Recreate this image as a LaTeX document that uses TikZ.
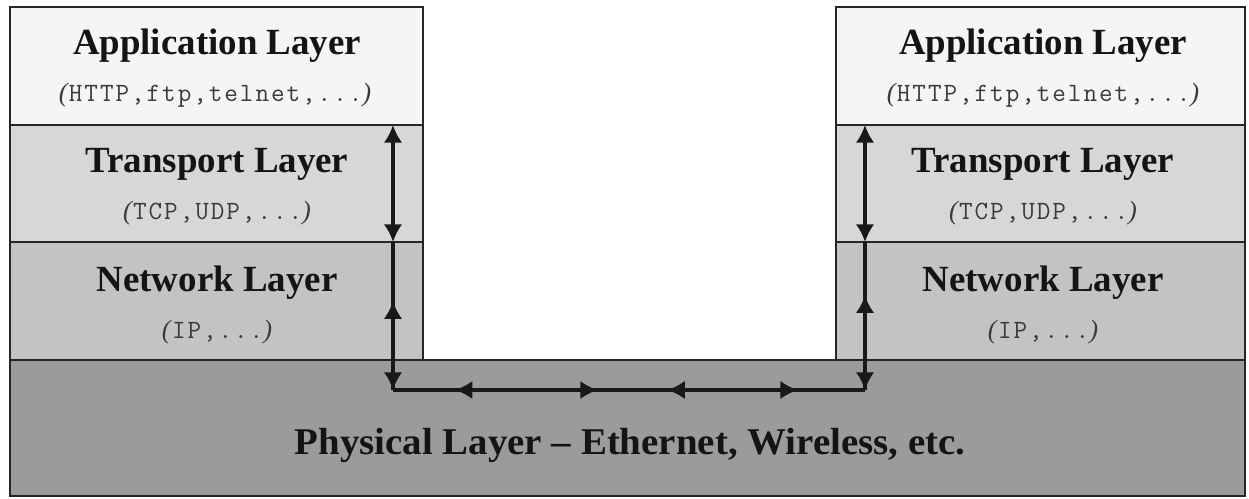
\documentclass[tikz,border=0pt]{standalone}
\usepackage{fontspec}
\setmainfont{Liberation Serif}
\newfontfamily\codefont[LetterSpace=7.5]{Latin Modern Mono}
\usetikzlibrary{arrows.meta,decorations.markings}

\definecolor{appgray}{HTML}{F5F5F5}
\definecolor{trgray}{HTML}{D7D7D7}
\definecolor{netgray}{HTML}{C3C3C3}
\definecolor{physgray}{HTML}{9B9B9B}
\definecolor{subtext}{HTML}{3A3A3A}

\tikzset{
  layerbox/.style={draw=black!85, line width=1.3pt},
  layertitle/.style={font=\fontsize{21}{25}\selectfont\bfseries, text=black!92, anchor=base, inner sep=0pt},
  layersub/.style={font=\fontsize{15}{18}\selectfont, text=subtext, anchor=base, inner sep=0pt},
  link/.style={line width=1.8pt, draw=black!90},
  headtip/.tip={Latex[length=10pt,width=10.5pt]},
  endtip/.style={-headtip},
  bothtips/.style={headtip-headtip},
  midtip/.style={postaction={decorate}, decoration={markings,
      mark=at position #1 with {\arrow{headtip}}}},
}

\newcommand{\protolist}[1]{\textit{(}{\codefont #1}\textit{)}}

\begin{document}
\begin{tikzpicture}[x=0.02cm, y=-0.02cm]
  \useasboundingbox (0,0) rectangle (1249,499);
  \fill[white] (0,0) rectangle (1249,499);

  % physical medium shared by both hosts
  \draw[layerbox, fill=physgray] (10,360) rectangle (1245,496);

  % left protocol stack
  \draw[layerbox, fill=appgray] (10,7)   rectangle (423,125);
  \draw[layerbox, fill=trgray]  (10,125) rectangle (423,242);
  \draw[layerbox, fill=netgray] (10,242) rectangle (423,360);

  % right protocol stack
  \draw[layerbox, fill=appgray] (836,7)   rectangle (1245,125);
  \draw[layerbox, fill=trgray]  (836,125) rectangle (1245,242);
  \draw[layerbox, fill=netgray] (836,242) rectangle (1245,360);

  % layer labels, left
  \node[layertitle] (lapp)  at (217,55)  {Application Layer};
  \node[layersub]   (lapps) at (215,102) {\protolist{HTTP,ftp,telnet,...}};
  \node[layertitle] (ltr)   at (217,173) {Transport Layer};
  \node[layersub]   (ltrs)  at (217,220) {\protolist{TCP,UDP,...}};
  \node[layertitle] (lnet)  at (217,292) {Network Layer};
  \node[layersub]   (lnets) at (217,339) {\protolist{IP,...}};

  % layer labels, right
  \node[layertitle] (rapp)  at (1043,55)  {Application Layer};
  \node[layersub]   (rapps) at (1043,102) {\protolist{HTTP,ftp,telnet,...}};
  \node[layertitle] (rtr)   at (1043,173) {Transport Layer};
  \node[layersub]   (rtrs)  at (1043,220) {\protolist{TCP,UDP,...}};
  \node[layertitle] (rnet)  at (1043,292) {Network Layer};
  \node[layersub]   (rnets) at (1043,339) {\protolist{IP,...}};

  % physical layer label
  \node[layertitle, font=\fontsize{21.5}{25}\selectfont\bfseries] (phys) at (630,455)
    {\scalebox{1.03}[1]{Physical Layer -- Ethernet, Wireless, etc.}};

  % data path through the stacks
  \coordinate (L1) at (393,125);
  \coordinate (L2) at (393,242);
  \coordinate (L3) at (393,390);
  \coordinate (R1) at (865,125);
  \coordinate (R2) at (865,242);
  \coordinate (R3) at (865,390);

  \draw[link, bothtips] (L1) -- (L2);
  \draw[link, endtip] (L2) -- (L3);
  \draw[link, midtip=0.6] (L3) -- (L2);

  \draw[link, bothtips] (R1) -- (R2);
  \draw[link, endtip] (R2) -- (R3);
  \draw[link, midtip=0.64] (R3) -- (R2);

  \draw[link, midtip=0.434] (L3) -- (R3);
  \draw[link, midtip=0.858] (L3) -- (R3);
  \draw[link, midtip=0.869] (R3) -- (L3);
  \draw[link, midtip=0.419] (R3) -- (L3);
\end{tikzpicture}
\end{document}
